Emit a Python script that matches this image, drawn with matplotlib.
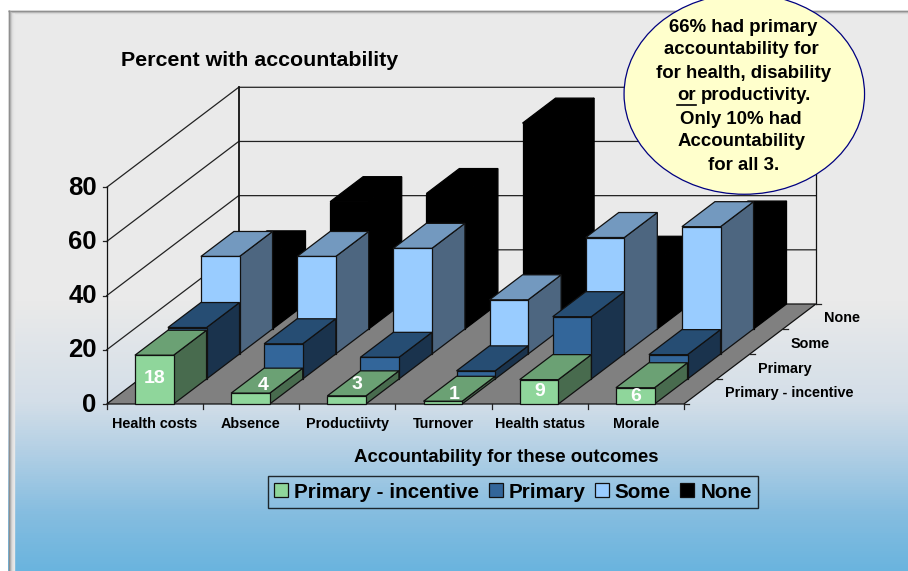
import numpy as np
import matplotlib
matplotlib.use('Agg')
import matplotlib.pyplot as plt
from matplotlib.colors import LinearSegmentedColormap, to_rgb
from matplotlib.patches import Ellipse, Patch, Polygon

plt.rcParams['font.family'] = ['Liberation Sans', 'DejaVu Sans']
plt.rcParams['font.weight'] = 'bold'

categories = ['Health costs', 'Absence', 'Productiivty', 'Turnover', 'Health status', 'Morale']
series_names = ['Primary - incentive', 'Primary', 'Some', 'None']
primary_incentive = [18, 4, 3, 1, 9, 6]
primary = [19, 13, 8, 3, 23, 9]
some = [36, 36, 39, 20, 43, 47]
none = [27, 47, 50, 76, 25, 38]
value_ticks = [0, 20, 40, 60, 80]

series_values = [primary_incentive, primary, some, none]
series_colors = ['#8FD69B', '#33669A', '#99CCFF', '#000000']

# offset of the data labels from the middle of the front face, in pixels
label_dx = [0, 12, 10, 11, 0, 0]
label_dy = [-1.5, -13.5, -15, -8.5, 0, 0.5]

# pixel layout of the fake 3d box
X0, Y0 = 106.7, 404.0
CAT_W = 96.2
BAR_W = 38.6
UNIT = 2.709
DEPTH_X, DEPTH_Y = 33.0, 25.0


def project(cat, depth, value):
    """cat and depth in category/series units, value in percent -> pixels"""
    return X0 + cat * CAT_W + depth * DEPTH_X, Y0 - depth * DEPTH_Y - value * UNIT


def shade(color, factor):
    return tuple(c * factor for c in to_rgb(color))


def draw_bar(ax, cat, row, value, color):
    gap = (CAT_W - BAR_W) / 2 / CAT_W
    left = cat + gap - 0.006
    right = cat + 1 - gap - 0.006
    edge = '#000000' if color == '#000000' else '#111111'
    front = [project(left, row, 0), project(right, row, 0),
             project(right, row, value), project(left, row, value)]
    side = [project(right, row, 0), project(right, row + 1, 0),
            project(right, row + 1, value), project(right, row, value)]
    top = [project(left, row, value), project(right, row, value),
           project(right, row + 1, value), project(left, row + 1, value)]
    ax.add_patch(Polygon(side, fc=shade(color, 0.5), ec=edge, lw=0.9, zorder=3 + (3 - row)))
    ax.add_patch(Polygon(top, fc=shade(color, 0.75), ec=edge, lw=0.9, zorder=3 + (3 - row)))
    ax.add_patch(Polygon(front, fc=color, ec=edge, lw=0.9, zorder=3 + (3 - row)))


fig = plt.figure(figsize=(9.08, 5.71), dpi=100)
ax = fig.add_axes([0, 0, 1, 1])
ax.axis('off')

# panel background
stops = [(0.0, '#EAEAEA'), (0.52, '#EAEAEA'), (0.70, '#D3DEE8'),
         (0.78, '#B6D1E5'), (0.90, '#85BDE0'), (1.0, '#6AB4DE')]
grad = LinearSegmentedColormap.from_list('panel', stops)
ax.imshow(np.linspace(0, 1, 561).reshape(-1, 1), cmap=grad, aspect='auto',
          extent=[8, 908, 571, 10], zorder=0)
ax.set_xlim(0, 908)
ax.set_ylim(571, 0)
for i, c in enumerate(['#8A8A8A', '#B0B0B0', '#D8D8D8']):
    ax.plot([8 + i, 908], [10.5 + i, 10.5 + i], color=c, lw=1, zorder=1, solid_capstyle='butt')
for i, c in enumerate(['#8A8A8A', '#A8A8A8', '#C8C8C8', '#DCDCDC', '#E4E4E4', '#E8E8E8']):
    ax.plot([8.5 + i, 8.5 + i], [10 + min(i, 3), 571], color=c, lw=1, zorder=1, solid_capstyle='butt')

n_cat = len(categories)
n_row = len(series_names)

# floor
ax.add_patch(Polygon([project(0, 0, 0), project(n_cat, 0, 0),
                      project(n_cat, n_row, 0), project(0, n_row, 0)],
                     fc='#808080', ec='#111111', lw=0.9, zorder=1))

# walls and grid
for v in value_ticks[1:]:
    xa, ya = project(0, 0, v)
    xb, yb = project(0, n_row, v)
    xc, yc = project(n_cat, n_row, v)
    ax.plot([xa, xb, xc], [ya, yb, yc], color='#222222', lw=0.9, zorder=2)
    ax.plot([xa - 4, xa], [ya, ya], color='#222222', lw=0.9, zorder=2)
ax.plot([X0 - 4, X0], [Y0, Y0], color='#222222', lw=0.9, zorder=2)
top_v = value_ticks[-1]
for cat, depth in [(0, 0), (0, n_row), (n_cat, n_row)]:
    xa, ya = project(cat, depth, 0)
    xb, yb = project(cat, depth, top_v)
    ax.plot([xa, xb], [ya, yb], color='#111111', lw=1.3 if depth and not cat else 0.9, zorder=2)

# ticks under the floor
for c in range(n_cat + 1):
    xa, ya = project(c, 0, 0)
    ax.plot([xa, xa], [ya, ya + 5], color='#222222', lw=0.9, zorder=2)
for r in range(n_row + 1):
    xa, ya = project(n_cat, r, 0)
    ax.plot([xa, xa + 5], [ya, ya], color='#222222', lw=0.9, zorder=2)

# bars, back row first
for row in range(n_row - 1, -1, -1):
    for cat in range(n_cat):
        draw_bar(ax, cat, row, series_values[row][cat], series_colors[row])

# data labels of the front row
for cat, v in enumerate(primary_incentive):
    xa, ya = project(cat + 0.5, 0, v / 2)
    ax.text(xa + label_dx[cat], ya + label_dy[cat], str(v), color='white', fontsize=14,
            ha='center', va='center', zorder=8)

# axis labels
for v in value_ticks:
    xa, ya = project(0, 0, v)
    ax.text(xa - 10, ya + 0.5, str(v), fontsize=18.5, ha='right', va='center', zorder=8)
for c, name in enumerate(categories):
    xa, ya = project(c + 0.5, 0, 0)
    ax.text(xa, ya + 20, name, fontsize=10.4, ha='center', va='center', zorder=8)
for r, name in enumerate(series_names):
    xa, ya = project(n_cat, r, 0)
    ax.text(xa + 41, ya - 10.5, name, fontsize=10.4, ha='left', va='center', zorder=8)

ax.text(260, 61, 'Percent with accountability', fontsize=15.4, ha='center', va='center', zorder=8)
ax.text(506, 458, 'Accountability for these outcomes', fontsize=13.4, ha='center', va='center', zorder=8)

handles = [Patch(fc=c, ec='#111111', lw=0.9, label=n) for c, n in zip(series_colors, series_names)]
leg = ax.legend(handles=handles, ncol=4, loc='center', bbox_to_anchor=(513, 492),
                bbox_transform=ax.transData, fontsize=14.9, frameon=True, fancybox=False,
                handlelength=0.67, handleheight=0.67, handletextpad=0.29, columnspacing=0.46,
                borderpad=0.3, borderaxespad=0)
leg.get_frame().set_facecolor('none')
leg.get_frame().set_edgecolor('black')
leg.get_frame().set_linewidth(1)
leg.set_zorder(8)

# callout
ax.add_patch(Ellipse((744.3, 94), 240.5, 200.5, fc='#FFFFCC', ec='#000080', lw=0.9, zorder=9))
ax.text(743, 27, '66% had primary', fontsize=13.4, ha='center', va='center', zorder=10)
ax.text(741, 50, 'accountability for', fontsize=13.4, ha='center', va='center', zorder=10)
ax.text(744, 73, 'for health, disability', fontsize=13.4, ha='center', va='center', zorder=10)
ax.text(677, 96, 'or', fontsize=13.4, ha='left', va='center', zorder=10)
ax.text(701, 96, 'productivity.', fontsize=13.4, ha='left', va='center', zorder=10)
ax.plot([677, 696], [104.5, 104.5], color='black', lw=1.2, zorder=10)
ax.text(741, 119, 'Only 10% had', fontsize=13.4, ha='center', va='center', zorder=10)
ax.text(742, 142, 'Accountability', fontsize=13.4, ha='center', va='center', zorder=10)
ax.text(744, 165, 'for all 3.', fontsize=13.4, ha='center', va='center', zorder=10)

fig.savefig('out.png', dpi=100)
